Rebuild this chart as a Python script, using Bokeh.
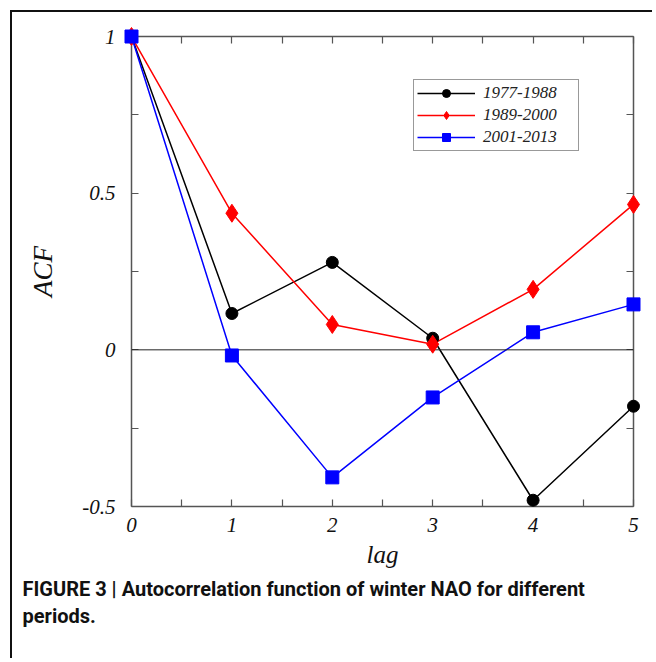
from bokeh.plotting import figure
from bokeh.models import Range1d, LinearAxis, FixedTicker, Span, Legend, LegendItem, Title
from bokeh.embed import file_html
from bokeh.resources import INLINE

lags = [0, 1, 2, 3, 4, 5]
acf_1977_1988 = [1.0, 0.116, 0.279, 0.037, -0.480, -0.180]
acf_1989_2000 = [1.0, 0.436, 0.081, 0.018, 0.193, 0.464]
acf_2001_2013 = [1.0, -0.018, -0.407, -0.152, 0.056, 0.145]
series_names = ["1977-1988", "1989-2000", "2001-2013"]
x_ticks = [0, 1, 2, 3, 4, 5]
x_minor = [0.5, 1.5, 2.5, 3.5, 4.5]
y_ticks = [-0.5, 0, 0.5, 1]
y_minor = [-0.25, 0.25, 0.75]
caption_lines = ["FIGURE 3 | Autocorrelation function of winter NAO for different", "periods."]

SERIF = "Liberation Serif"
CAPTION_FONT = "Roboto"
AX = "#555555"

p = figure(width=642, height=648, output_backend="svg", toolbar_location=None,
           x_range=Range1d(0, 5), y_range=Range1d(-0.5, 1),
           min_border_left=119, min_border_top=24, min_border_right=21, min_border_bottom=154)
p.outline_line_color = None
p.grid.visible = False
p.background_fill_color = "white"
p.border_fill_color = "white"
p.styles = {"border-top": "2px solid #111", "border-left": "2px solid #111",
            "margin-left": "10px", "margin-top": "10px"}

def style_axis(ax):
    ax.axis_line_color = AX
    ax.axis_line_width = 1.5
    ax.major_tick_line_color = AX
    ax.minor_tick_line_color = AX
    ax.major_tick_line_width = 1.2
    ax.minor_tick_line_width = 1.2
    ax.major_tick_in = 7
    ax.major_tick_out = 0
    ax.minor_tick_in = 7
    ax.minor_tick_out = 0
    ax.major_label_text_font = SERIF
    ax.major_label_text_font_style = "italic"
    ax.major_label_text_font_size = "21px"
    ax.major_label_text_color = "#111111"
    ax.axis_label_text_font = SERIF
    ax.axis_label_text_font_style = "italic"
    ax.axis_label_text_color = "#111111"

xa = p.xaxis[0]
xa.ticker = FixedTicker(ticks=x_ticks, minor_ticks=x_minor)
style_axis(xa)
xa.major_label_standoff = 11
xa.axis_label = "lag"
xa.axis_label_text_font_size = "25px"
xa.axis_label_standoff = 6

ya = p.yaxis[0]
ya.ticker = FixedTicker(ticks=y_ticks, minor_ticks=y_minor)
style_axis(ya)
ya.major_label_standoff = 16
ya.major_label_overrides = {-0.5: "-0.5"}
ya.axis_label = "ACF"
ya.axis_label_text_font_size = "27px"
ya.axis_label_standoff = 21

top = LinearAxis(ticker=FixedTicker(ticks=[], minor_ticks=x_ticks + x_minor))
style_axis(top)
p.add_layout(top, "above")
right = LinearAxis(ticker=FixedTicker(ticks=[], minor_ticks=y_ticks + y_minor))
style_axis(right)
p.add_layout(right, "right")

# blank spacer between the axis title and the caption (it has no ticks to draw)
spacer = LinearAxis(ticker=FixedTicker(ticks=[], minor_ticks=[]), axis_line_color="white",
                    major_tick_line_color="white", minor_tick_line_color="white",
                    major_tick_in=0, major_tick_out=28, minor_tick_in=0, minor_tick_out=0)
p.add_layout(spacer, "below")

p.add_layout(Span(location=0, dimension="width", line_color="#222222", line_width=1))

colors = ["black", "#ff0000", "#0000ff"]
markers = ["circle", "diamond", "square"]
sizes = [12, 18, 13]
data = [acf_1977_1988, acf_1989_2000, acf_2001_2013]
items = []
for name, ys, c, m, s in zip(series_names, data, colors, markers, sizes):
    lr = p.line(lags, ys, line_color=c, line_width=1.5)
    sr = p.scatter(lags, ys, marker=m, size=s, fill_color=c, line_color=c, level="overlay")
    items.append(LegendItem(label=name, renderers=[lr, sr]))

legend = Legend(items=items, location=(282, 355), margin=0, padding=3, spacing=2,
                border_line_color="#333333", border_line_width=1.2,
                label_text_font=SERIF, label_text_font_style="italic",
                label_text_font_size="17px", label_text_color="#222222",
                glyph_width=58, glyph_height=20, label_height=20, label_width=92,
                label_standoff=8)
p.add_layout(legend)

p.add_layout(Title(text="\n".join(caption_lines), align="left", offset=-109,
                   text_font=CAPTION_FONT, text_font_style="bold",
                   text_font_size="20px", text_color="#111111", text_line_height=1.15,
                   standoff=8), "below")

open("out.html", "w").write(file_html(p, INLINE))
